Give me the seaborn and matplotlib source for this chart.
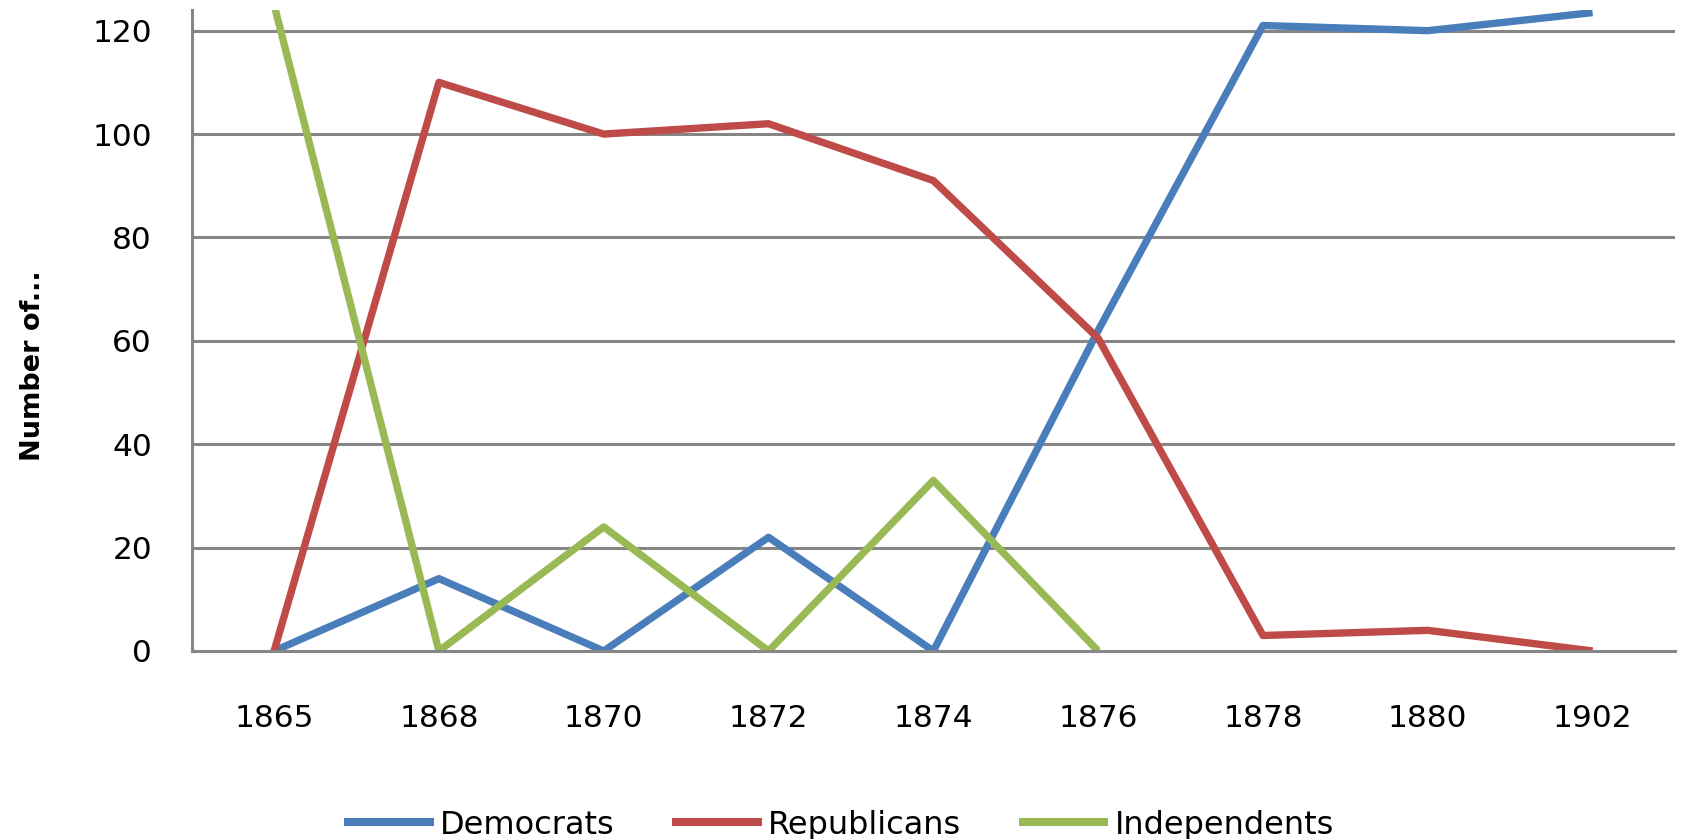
import matplotlib
matplotlib.use("Agg")
import matplotlib.pyplot as plt
import seaborn as sns
import numpy as np
import pandas as pd

years = ["1865", "1868", "1870", "1872", "1874", "1876", "1878", "1880", "1902"]
democrats = [0, 14, 0, 22, 0, 62, 121, 120, 123.5]
republicans = [0, 110, 100, 102, 91, 60.5, 3, 4, 0]
independents = [125, 0, 24, 0, 33, 0, np.nan, np.nan, np.nan]
series_names = ["Democrats", "Republicans", "Independents"]
colors = ["#4A7EBB", "#BE4B48", "#98B954"]
y_ticks = [0, 20, 40, 60, 80, 100, 120]

df = pd.DataFrame({
    "Year": years * 3,
    "Value": democrats + republicans + independents,
    "Party": [series_names[0]] * 9 + [series_names[1]] * 9 + [series_names[2]] * 9,
})

sns.set_style("white")
plt.rcParams["font.family"] = ["DejaVu Sans"]
plt.rcParams["text.color"] = "black"
plt.rcParams["axes.labelcolor"] = "black"

W, H = 1685, 839
fig = plt.figure(figsize=(W / 100, H / 100), dpi=100)
left, right, top, bottom = 191.7, 1675, 10, 651
ax = fig.add_axes([left / W, 1 - bottom / H, (right - left) / W, (bottom - top) / H])

grid_c = "#868686"
sns.lineplot(data=df, x="Year", y="Value", hue="Party", palette=colors,
             hue_order=series_names, linewidth=5.3, ax=ax, legend=False,
             sort=False, estimator=None)
for ln in ax.get_lines():
    ln.set_solid_joinstyle("round")
    ln.set_solid_capstyle("butt")

ax.set_xlim(-0.5, 8.5)
ax.set_ylim(0, 124)
ax.set_yticks(y_ticks)
ax.set_xticks(range(len(years)))
ax.set_xticklabels(years)
ax.set_xticks([8.5], minor=True)

for y in y_ticks[1:]:
    ax.axhline(y, color=grid_c, linewidth=2.2, zorder=0.5)

for s in ["top", "right"]:
    ax.spines[s].set_visible(False)
for s in ["left", "bottom"]:
    ax.spines[s].set_color(grid_c)
    ax.spines[s].set_linewidth(2.2)

ax.tick_params(axis="y", length=0, pad=28.5, labelsize=22.5, labelcolor="black")
ax.tick_params(axis="x", which="both", direction="inout", length=14.4, width=2.2,
               color=grid_c, pad=31, labelsize=22.5, labelcolor="black")

ax.set_xlabel("")
ax.set_ylabel("Number of...", fontsize=19.5, fontweight="bold", color="black")
ax.yaxis.label.set_verticalalignment("center")
ax.yaxis.set_label_coords((33 - left) / (right - left), (bottom - 366) / (bottom - top))

handles = [plt.Line2D([], [], color=c, linewidth=5.8, solid_capstyle="butt") for c in colors]
leg = fig.legend(handles, series_names, loc="center", bbox_to_anchor=(0.498, 0.0165),
                 ncol=3, frameon=False, fontsize=23, handlelength=2.8,
                 handletextpad=0.2, columnspacing=1.8, borderaxespad=0, borderpad=0)
for t in leg.get_texts():
    t.set_color("black")

fig.savefig("out.png", dpi=100)
